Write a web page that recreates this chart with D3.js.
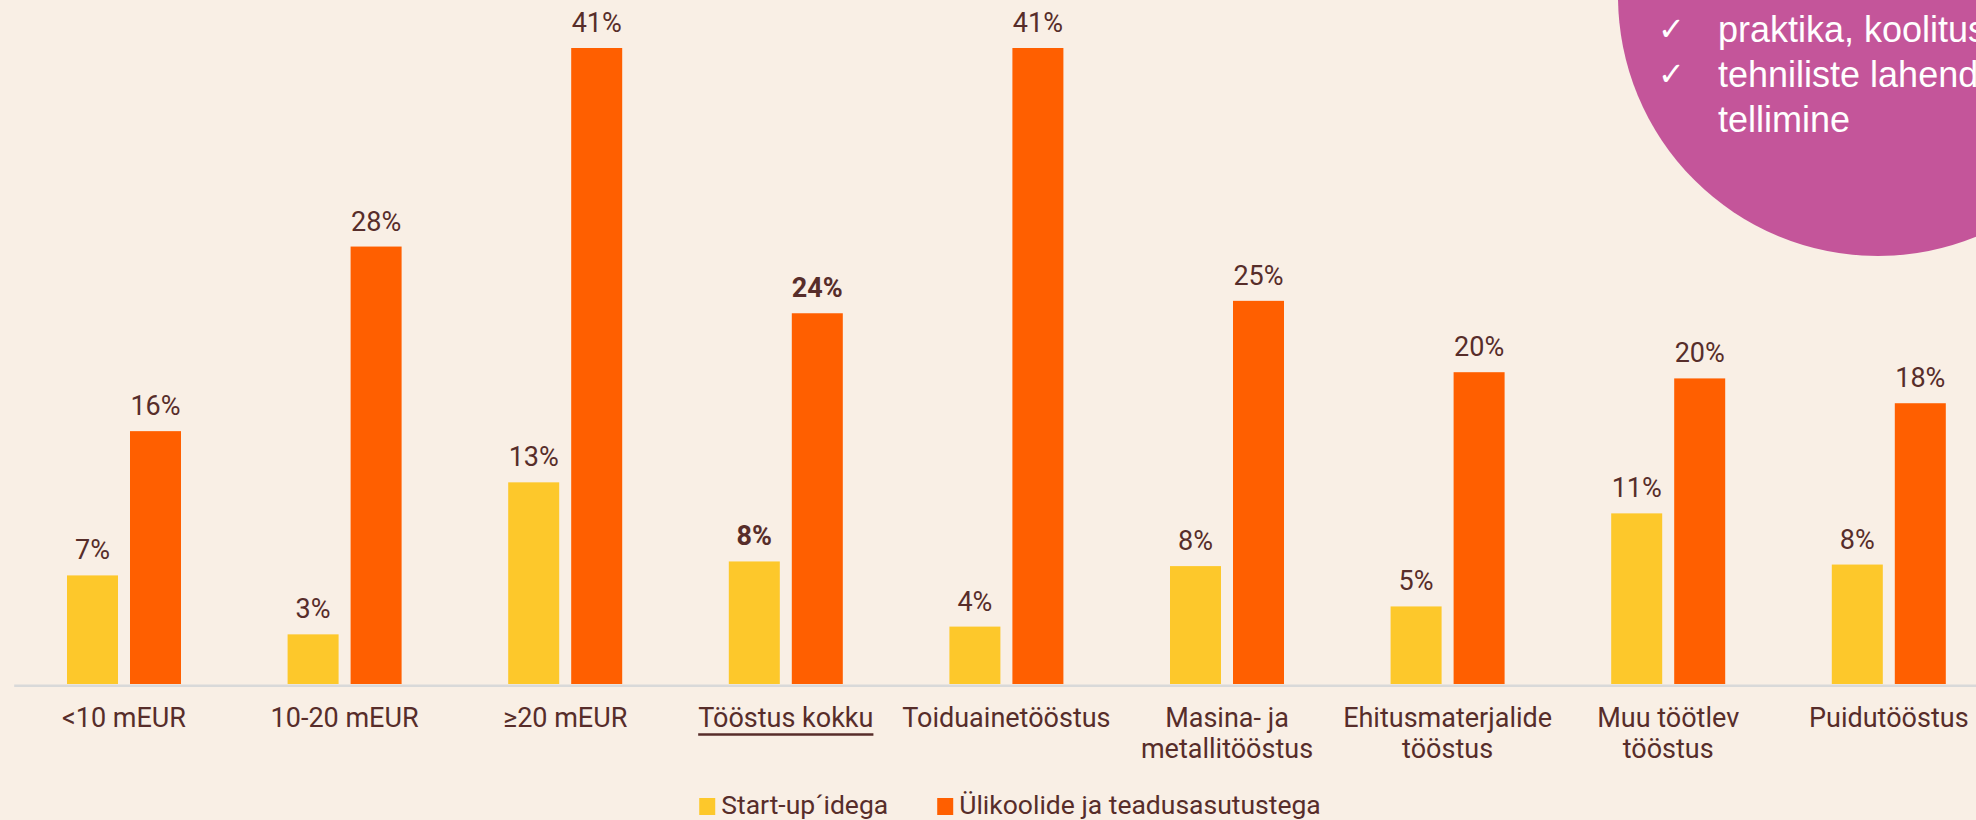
<!DOCTYPE html>
<html>
<head>
<meta charset="utf-8">
<script src="https://cdn.jsdelivr.net/npm/d3@7/dist/d3.min.js"></script>
<style>
  body { margin:0; background:#f9efe5; }
  svg { display:block; }
  .vlabel { font-family: Roboto, sans-serif; font-size:27px; fill:#572d2a; text-anchor:middle; }
  .vlabel.bold { font-weight:700; }
  .catlabel { font-family: Roboto, sans-serif; font-size:27px; fill:#572d2a; text-anchor:middle; }
  .legend text { font-family: Roboto, sans-serif; font-size:26.5px; fill:#572d2a; }
  .callout text { font-family: "Liberation Sans", Arial, sans-serif; font-size:36px; fill:#ffffff; }
</style>
</head>
<body>
<div id="chart"></div>
<script>
// andmed
const categories = ["<10 mEUR", "10-20 mEUR", "≥20 mEUR", "Tööstus kokku", "Toiduainetööstus",
  "Masina- ja metallitööstus", "Ehitusmaterjalide tööstus", "Muu töötlev tööstus", "Puidutööstus"];
const series = ["Start-up´idega", "Ülikoolide ja teadusasutustega"];
const startupValues = [7.0, 3.2, 13.0, 7.9, 3.7, 7.6, 5.0, 11.0, 7.7];
const uniValues = [16.3, 28.2, 41.0, 23.9, 41.0, 24.7, 20.1, 19.7, 18.1];
const totalCategory = "Tööstus kokku";
const calloutLines = ["praktika, koolitused", "tehniliste lahenduste", "tellimine"];
const calloutChecks = [true, true, false];

const colors = ["#fdc82b", "#ff5f00"];

function generateChart(id){
  let width = 1976, height = 820;
  let baseY = 684;

  let svg = d3.select(id)
    .append("svg")
    .attr("width", width)
    .attr("height", height);

  svg.append("rect")
    .attr("width", width).attr("height", height)
    .attr("fill", "#f9efe5");

  let data = categories.map(function(c,i){
    return {cat: c, values: [startupValues[i], uniValues[i]]};
  });

  let x = d3.scaleBand()
    .domain(categories)
    .range([13.7, 13.7 + 220.6*categories.length])
    .padding(0);

  let xSub = d3.scaleBand()
    .domain(series)
    .range([53.3, 167.3])
    .paddingInner(12/63)
    .paddingOuter(0);

  let y = d3.scaleLinear()
    .domain([0, 41])
    .range([baseY, 48]);

  // telg
  let axis = svg.append("g")
    .attr("transform", "translate(0," + baseY + ")")
    .call(d3.axisBottom(x).tickSize(0).tickSizeOuter(0));

  axis.select(".domain")
    .attr("stroke", "#d9d9d9")
    .attr("stroke-width", 2.6)
    .attr("transform", "translate(0,1.3)");

  axis.selectAll(".tick text")
    .attr("class", "catlabel")
    .attr("font-family", null)
    .attr("font-size", null)
    .attr("fill", null)
    .call(wrap, 205);

  // tööstus kokku alla joon
  axis.selectAll(".tick").filter(function(d){ return d == totalCategory; })
    .each(function(){
      let bb = d3.select(this).select("text").node().getBBox();
      d3.select(this).append("line")
        .attr("x1", bb.x).attr("x2", bb.x + bb.width)
        .attr("y1", 50.5).attr("y2", 50.5)
        .attr("stroke", "#572d2a")
        .attr("stroke-width", 2.4);
    });

  let groups = svg.selectAll(".group")
    .data(data)
    .enter().append("g")
    .attr("class", "group")
    .attr("transform", function(d){ return "translate(" + x(d.cat) + ",0)"; });

  groups.selectAll("rect")
    .data(function(d){ return d.values.map(function(v,j){ return {s: series[j], v: v, j: j}; }); })
    .enter().append("rect")
    .attr("x", function(d){ return xSub(d.s); })
    .attr("y", function(d){ return y(d.v); })
    .attr("width", xSub.bandwidth())
    .attr("height", function(d){ return baseY - y(d.v); })
    .attr("fill", function(d){ return colors[d.j]; });

  groups.selectAll(".vlabel")
    .data(function(d){ return d.values.map(function(v,j){ return {s: series[j], v: v, total: d.cat == totalCategory}; }); })
    .enter().append("text")
    .attr("class", function(d){ return d.total ? "vlabel bold" : "vlabel"; })
    .attr("x", function(d){ return xSub(d.s) + xSub.bandwidth()/2; })
    .attr("y", function(d){ return y(d.v) - 16; })
    .text(function(d){ return Math.round(d.v) + "%"; });

  // legend
  let legend = svg.append("g").attr("class", "legend");
  let lx = 0;
  series.forEach(function(s,i){
    legend.append("rect")
      .attr("x", lx).attr("y", -16)
      .attr("width", 16).attr("height", 17)
      .attr("fill", colors[i]);
    let t = legend.append("text")
      .attr("x", lx + 22).attr("y", 0)
      .text(s);
    lx += 22 + t.node().getComputedTextLength() + 49;
  });
  let lw = lx - 49;
  legend.attr("transform", "translate(" + (1010 - lw/2) + ",814)");

  // ring paremal üleval
  let callout = svg.append("g").attr("class", "callout");
  callout.append("circle")
    .attr("cx", 1878).attr("cy", -4).attr("r", 260)
    .attr("fill", "#c4559a");
  calloutLines.forEach(function(line,i){
    if(calloutChecks[i]){
      callout.append("text")
        .attr("x", 1658).attr("y", 40 + i*45)
        .style("font-family", "'DejaVu Sans', sans-serif")
        .style("font-size", "32px")
        .text("✓");
    }
    callout.append("text")
      .attr("x", 1718).attr("y", 42 + i*45)
      .text(line);
  });
}

function wrap(text, width){
  text.each(function(){
    let t = d3.select(this);
    let words = t.text().split(/\s+/);
    let lines = [], line = [];
    t.text(null);
    let tsp = t.append("tspan");
    words.forEach(function(w){
      line.push(w);
      tsp.text(line.join(" "));
      if(tsp.node().getComputedTextLength() > width && line.length > 1){
        line.pop();
        lines.push(line.join(" "));
        line = [w];
      }
    });
    lines.push(line.join(" "));
    t.text(null);
    t.attr("y", 43).attr("dy", null);
    lines.forEach(function(l,k){
      t.append("tspan")
        .attr("x", 0)
        .attr("y", 43 + k*31)
        .text(l);
    });
  });
}

generateChart("#chart");
</script>
</body>
</html>
